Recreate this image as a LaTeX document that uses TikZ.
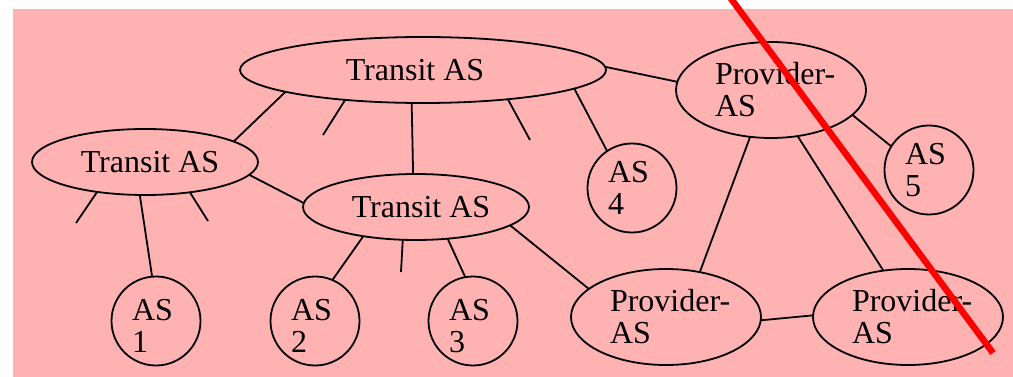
\documentclass[tikz,border=0pt]{standalone}
\usepackage{fontspec}
\setmainfont{Liberation Serif}
\usetikzlibrary{shapes.geometric}
\definecolor{bgpink}{RGB}{255,178,178}
\begin{document}
\begin{tikzpicture}[x=1pt,y=-1pt,
  conn/.style={draw=black, line width=1.8pt},
  shapebase/.style={draw=black, line width=1.8pt, inner sep=0pt, outer sep=0pt},
  txt/.style={font=\fontsize{32}{32}\selectfont, inner sep=0pt, outer sep=0pt},
  transit/.style={shapebase, ellipse, minimum width=226pt, minimum height=66pt},
  bigtransit/.style={transit, minimum width=366pt},
  provider/.style={shapebase, ellipse, minimum width=190pt, minimum height=96pt},
  stub/.style={shapebase, circle, minimum size=89pt},
  twoline/.style={txt, align=left, text width=#1},
  redline/.style={draw=red, line width=6.5pt}]
\clip (0,0) rectangle (1013,377);
\useasboundingbox (0,0) rectangle (1013,377);
\fill[bgpink] (13,9) rectangle (1013,377);

\node[bigtransit, label={[txt, xshift=-8pt]center:Transit AS}] (T1) at (423,70) {};
\node[transit, label={[txt, xshift=5pt]center:Transit AS}] (T2) at (145,162) {};
\node[transit, label={[txt, xshift=5pt]center:Transit AS}] (T3) at (416,207) {};
\node[provider, label={[twoline=112pt]center:{\mbox{Provider-}\\AS}}] (P1) at (771,90) {};
\node[provider, label={[twoline=112pt]center:{\mbox{Provider-}\\AS}}] (P2) at (666,317) {};
\node[provider, label={[twoline=112pt]center:{\mbox{Provider-}\\AS}}] (P3) at (908,317) {};
\node[stub, label={[twoline=48pt, yshift=-5pt]center:{AS\\1}}] (AS1) at (156,321) {};
\node[stub, label={[twoline=48pt, yshift=-5pt]center:{AS\\2}}] (AS2) at (315,321) {};
\node[stub, label={[twoline=48pt, yshift=-5pt]center:{AS\\3}}] (AS3) at (473,321) {};
\node[stub, label={[twoline=48pt]center:{AS\\4}}] (AS4) at (632,188) {};
\node[stub, label={[twoline=48pt]center:{AS\\5}}] (AS5) at (929,170) {};

\coordinate (s1) at (323,135);
\coordinate (s2) at (530,140);
\coordinate (s3) at (76,223);
\coordinate (s4) at (208,221);
\coordinate (s5) at (401,272);
\coordinate (r1) at (724.6,-10);
\coordinate (r2) at (993,353);

\draw[conn] (T1.189) -- (T2.13);
\draw[conn] (T1.201) -- (s1);
\draw[conn] (T1.251) -- (T3.95);
\draw[conn] (T1.341.6) -- (s2);
\draw[conn] (T1.353) -- (AS4.124.4);
\draw[conn] (T1.1) -- (P1.175.1);

\draw[conn] (T2.353.4) -- (T3.178);
\draw[conn] (T2.212.9) -- (s3);
\draw[conn] (T2.261.4) -- (AS1.95.2);
\draw[conn] (T2.326) -- (s4);

\draw[conn] (T3.209.5) -- (AS2.67.8);
\draw[conn] (T3.248.5) -- (s5);
\draw[conn] (T3.315) -- (AS3.100.3);
\draw[conn] (T3.349.7) -- (P2.160.9);

\draw[conn] (P1.343.2) -- (AS5.148.8);
\draw[conn] (P1.246) -- (P2.53.7);
\draw[conn] (P1.300.6) -- (P3.118.5);
\draw[conn] (P2.358.8) -- (P3.179.4);

\draw[redline] (r1) -- (r2);
\end{tikzpicture}
\end{document}
